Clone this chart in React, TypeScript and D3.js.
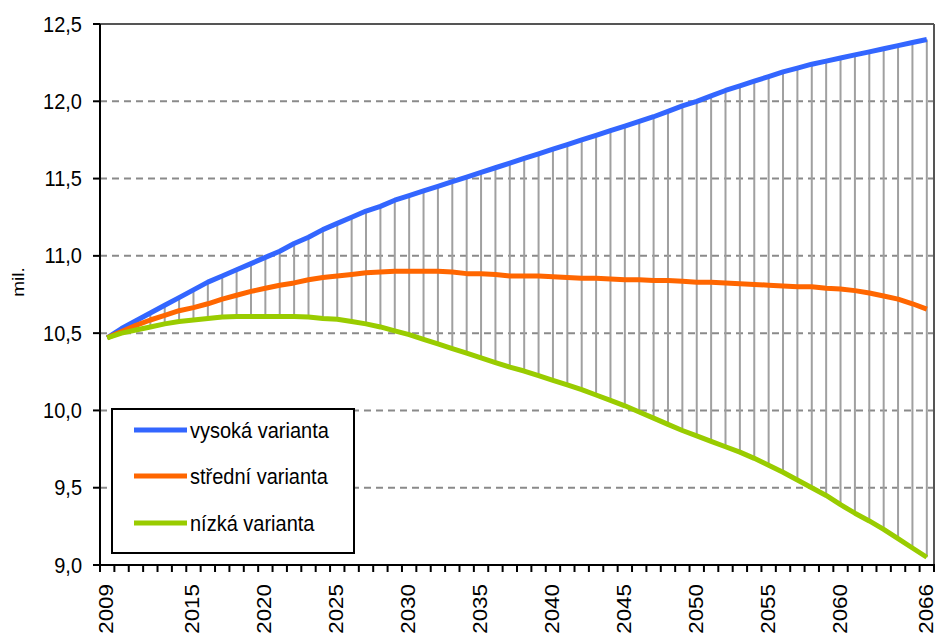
import React, { useEffect, useRef } from "react";
import * as d3 from "d3";

const years: number[] = d3.range(2009, 2067);

const highValues: number[] = [
  10.47, 10.53, 10.58, 10.63, 10.68, 10.73, 10.78, 10.83, 10.87, 10.91,
  10.95, 10.99, 11.03, 11.08, 11.12, 11.17, 11.21, 11.25, 11.29, 11.32,
  11.36, 11.39, 11.42, 11.45, 11.48, 11.51, 11.54, 11.57, 11.6, 11.63,
  11.66, 11.69, 11.72, 11.75, 11.78, 11.81, 11.84, 11.87, 11.9, 11.935,
  11.97, 12.0, 12.035, 12.07, 12.1, 12.13, 12.16, 12.19, 12.215, 12.24,
  12.26, 12.28, 12.3, 12.32, 12.34, 12.36, 12.38, 12.4,
];

const midValues: number[] = [
  10.47, 10.51, 10.55, 10.585, 10.615, 10.645, 10.665, 10.69, 10.72, 10.745,
  10.77, 10.79, 10.81, 10.825, 10.845, 10.86, 10.87, 10.88, 10.89, 10.895,
  10.9, 10.9, 10.9, 10.9, 10.895, 10.885, 10.885, 10.88, 10.87, 10.87,
  10.87, 10.865, 10.86, 10.855, 10.855, 10.85, 10.845, 10.845, 10.84, 10.84,
  10.835, 10.83, 10.83, 10.825, 10.82, 10.815, 10.81, 10.805, 10.8, 10.8,
  10.79, 10.785, 10.775, 10.76, 10.74, 10.72, 10.69, 10.655,
];

const lowValues: number[] = [
  10.47, 10.5, 10.52, 10.54, 10.56, 10.575, 10.585, 10.595, 10.605, 10.607,
  10.607, 10.607, 10.607, 10.607, 10.605, 10.595, 10.59, 10.575, 10.56, 10.54,
  10.515, 10.49, 10.46, 10.43, 10.4, 10.37, 10.34, 10.31, 10.28, 10.255,
  10.225, 10.195, 10.165, 10.135, 10.1, 10.065, 10.03, 9.99, 9.95, 9.91,
  9.87, 9.835, 9.8, 9.765, 9.73, 9.69, 9.645, 9.6, 9.55, 9.5,
  9.45, 9.39, 9.335, 9.285, 9.23, 9.17, 9.11, 9.05,
];

const seriesNames: string[] = ["vysoká varianta", "střední varianta", "nízká varianta"];
const seriesColors: string[] = ["#3366FF", "#FF6600", "#99CC00"];
const yTicks: number[] = [9.0, 9.5, 10.0, 10.5, 11.0, 11.5, 12.0, 12.5];
const xLabelYears: number[] = [2009, 2015, 2020, 2025, 2030, 2035, 2040, 2045, 2050, 2055, 2060, 2066];
const yAxisTitle = "mil.";

export default function App() {
  const ref = useRef<SVGSVGElement>(null);

  useEffect(() => {
    const svg = d3.select(ref.current);
    svg.selectAll("*").remove();

    const W = 935, H = 637;
    const left = 100, right = 934, top = 24, bottom = 565;
    const font = "'Liberation Sans', Arial, sans-serif";
    const fs = 20;
    const sy = 1.12;

    const x = d3.scaleBand<number>().domain(years).range([left, right]).paddingInner(0).paddingOuter(0);
    const cx = (yr: number) => (x(yr) as number) + x.bandwidth() / 2;
    const y = d3.scaleLinear().domain([9, 12.5]).range([bottom, top]);

    svg.append("rect").attr("width", W).attr("height", H).attr("fill", "#fff");

    // grid
    yTicks.filter((t) => t > 9 && t < 12.5).forEach((t) => {
      svg.append("line")
        .attr("x1", left).attr("x2", right)
        .attr("y1", y(t)).attr("y2", y(t))
        .attr("stroke", "#8a8a8a").attr("stroke-width", 2)
        .attr("stroke-dasharray", "7,5");
    });

    // frame top/right
    svg.append("line").attr("x1", left).attr("x2", right).attr("y1", top).attr("y2", top)
      .attr("stroke", "#555").attr("stroke-width", 2);
    svg.append("line").attr("x1", right).attr("x2", right).attr("y1", top).attr("y2", bottom)
      .attr("stroke", "#555").attr("stroke-width", 2);

    // high-low lines
    years.forEach((yr, i) => {
      svg.append("line")
        .attr("x1", cx(yr)).attr("x2", cx(yr))
        .attr("y1", y(highValues[i])).attr("y2", y(lowValues[i]))
        .attr("stroke", "#a0a0a0").attr("stroke-width", 2);
    });

    // series
    const data = [highValues, midValues, lowValues];
    const line = d3.line<number>().x((_, i) => cx(years[i])).y((d) => y(d));
    data.forEach((vals, k) => {
      svg.append("path").attr("d", line(vals) as string)
        .attr("fill", "none").attr("stroke", seriesColors[k])
        .attr("stroke-width", 5).attr("stroke-linejoin", "round");
    });

    // axes
    svg.append("line").attr("x1", left).attr("x2", left).attr("y1", top).attr("y2", bottom + 1)
      .attr("stroke", "#000").attr("stroke-width", 2);
    svg.append("line").attr("x1", left - 7).attr("x2", right + 1).attr("y1", bottom).attr("y2", bottom)
      .attr("stroke", "#000").attr("stroke-width", 2);

    yTicks.forEach((t) => {
      svg.append("line").attr("x1", left - 7).attr("x2", left).attr("y1", y(t)).attr("y2", y(t))
        .attr("stroke", "#000").attr("stroke-width", 2);
      svg.append("text")
        .attr("transform", `translate(82,${y(t) + 7.5}) scale(1,${sy})`)
        .attr("text-anchor", "end").attr("font-family", font).attr("font-size", fs)
        .attr("fill", "#000").text(d3.format(".1f")(t).replace(".", ","));
    });

    const bounds = [...years.map((yr) => x(yr) as number), right];
    bounds.forEach((b) => {
      svg.append("line").attr("x1", b).attr("x2", b).attr("y1", bottom).attr("y2", bottom + 7)
        .attr("stroke", "#000").attr("stroke-width", 2);
    });

    xLabelYears.forEach((yr) => {
      svg.append("text")
        .attr("transform", `translate(${cx(yr) + 6},584) rotate(-90) scale(${sy},1)`)
        .attr("text-anchor", "end").attr("font-family", font).attr("font-size", fs)
        .attr("fill", "#000").text(String(yr));
    });

    svg.append("text")
      .attr("transform", `translate(24,282) rotate(-90) scale(${sy},1)`)
      .attr("text-anchor", "middle").attr("font-family", font).attr("font-size", 17)
      .attr("fill", "#000").text(yAxisTitle);

    // legend
    svg.append("rect").attr("x", 112).attr("y", 409).attr("width", 242).attr("height", 144)
      .attr("fill", "#fff").attr("stroke", "#000").attr("stroke-width", 2);
    const ly = [430, 476, 523];
    seriesNames.forEach((n, k) => {
      svg.append("line").attr("x1", 134).attr("x2", 187).attr("y1", ly[k]).attr("y2", ly[k])
        .attr("stroke", seriesColors[k]).attr("stroke-width", 5);
      svg.append("text")
        .attr("transform", `translate(190,${ly[k] + 7.5}) scale(1,${sy})`)
        .attr("font-family", font).attr("font-size", fs).attr("fill", "#000").text(n);
    });
  }, []);

  return (
    <svg
      ref={ref}
      width={935}
      height={637}
      style={{ position: "absolute", left: 0, top: 0, display: "block" }}
    />
  );
}
